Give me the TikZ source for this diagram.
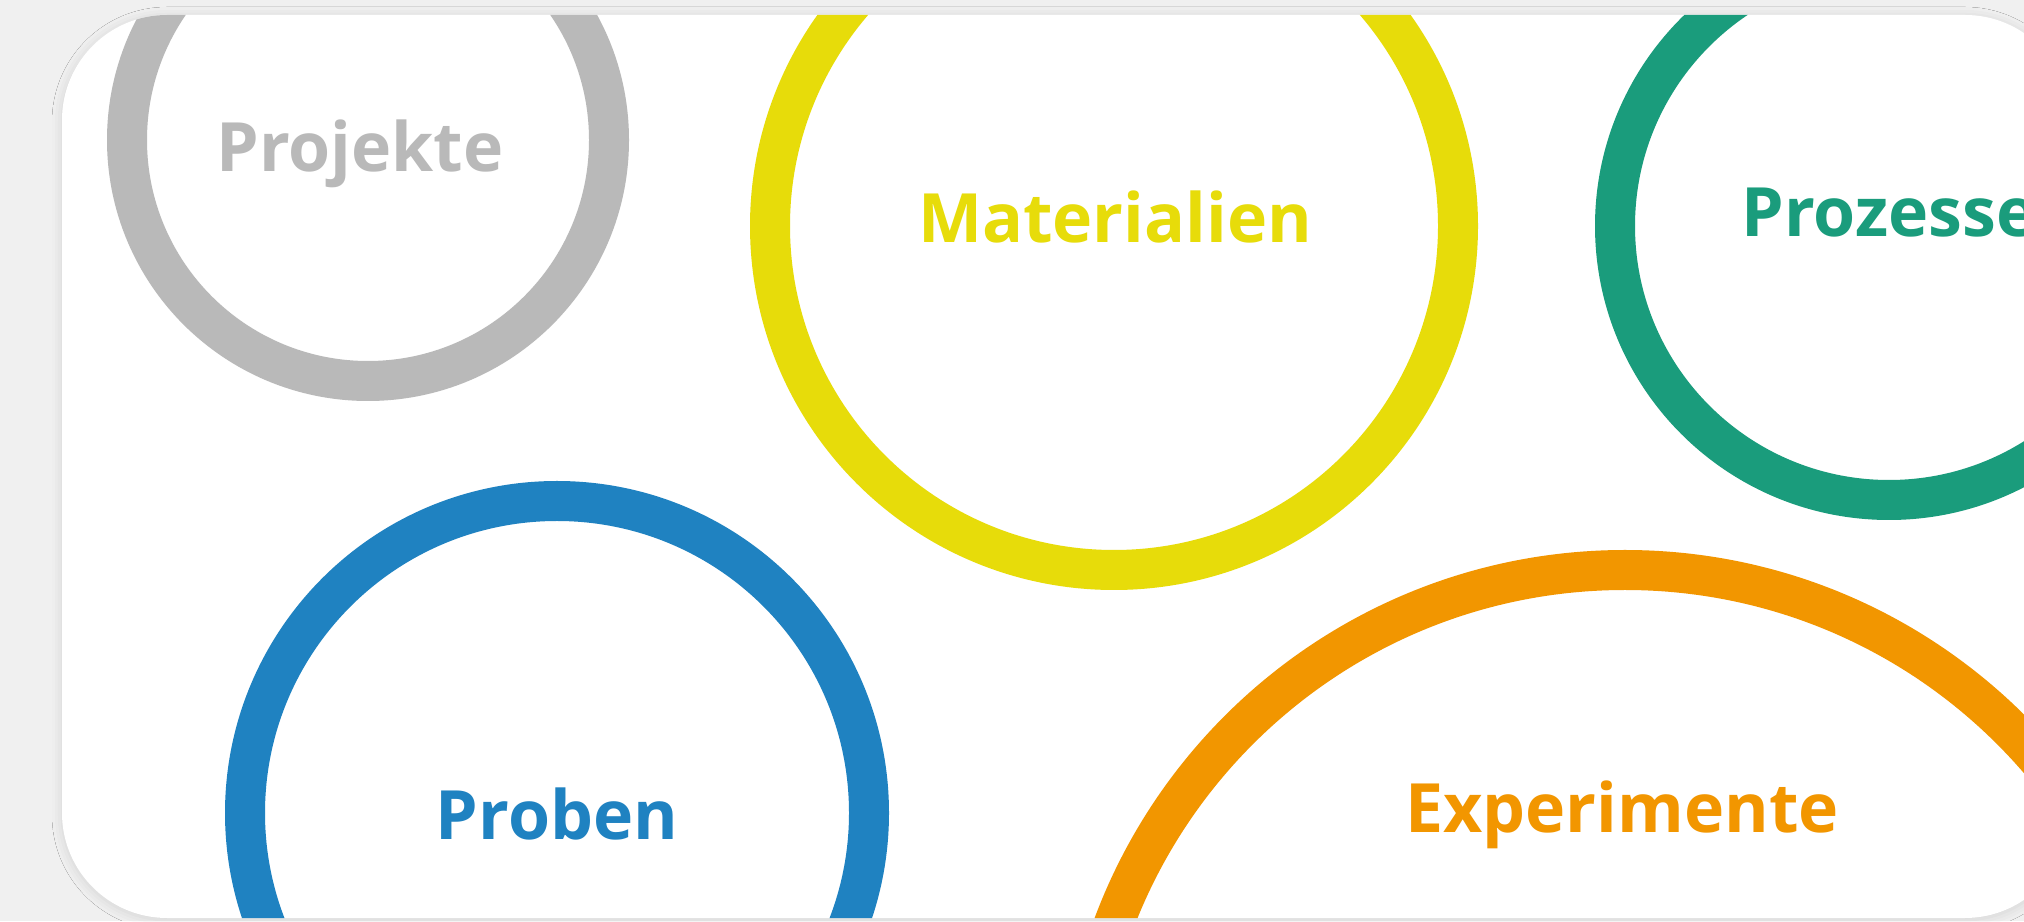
\documentclass[tikz,border=0pt]{standalone}
\usepackage{fontspec}
\setmainfont{Open Sans}
\usetikzlibrary{shadows.blur}

\definecolor{pagegray}{HTML}{F0F0F0}
\definecolor{projektegray}{HTML}{B9B9B9}
\definecolor{materialyellow}{HTML}{E7DC0A}
\definecolor{prozessgreen}{HTML}{1A9C7C}
\definecolor{probenblue}{HTML}{1F82C1}
\definecolor{experimentorange}{HTML}{F29600}

\tikzset{
  ring/.style={circle, draw=#1, line width=40pt, inner sep=0pt},
  ringlabel/.style={text=#1, anchor=base, inner sep=0pt,
    font=\bfseries\fontsize{68}{82}\selectfont},
}

\begin{document}
\begin{tikzpicture}[x=1pt,y=1pt]
    \useasboundingbox (0,0) rectangle (2024,921);
    \fill[pagegray] (0,0) rectangle (2024,921);
    \fill[white, rounded corners=105pt,
      blur shadow={shadow xshift=0pt, shadow yshift=-2pt, shadow blur radius=10pt, shadow opacity=12}]
      (62,3) rectangle (2070,906);

    \begin{scope}
        \clip[rounded corners=105pt] (62,3) rectangle (2070,906);
        \node[ring=projektegray, minimum size=482pt] (projekte) at (368,781) {};
        \node[ring=materialyellow, minimum size=688pt] (materialien) at (1114,695) {};
        \node[ring=prozessgreen, minimum size=548pt] (prozesse) at (1889,695) {};
        \node[ring=probenblue, minimum size=624pt] (proben) at (557,108) {};
        \node[ring=experimentorange, minimum size=1092pt] (experimente) at (1625,-195) {};
    \end{scope}

    \node[ringlabel=projektegray] (projektetext) at (360,749) {Projekte};
    \node[ringlabel=materialyellow] (materialientext) at (1115,678) {Materialien};
    \node[ringlabel=prozessgreen] (prozessetext) at (1889,684) {Prozesse};
    \node[ringlabel=probenblue] (probentext) at (557,81) {Proben};
    \node[ringlabel=experimentorange] (experimentetext) at (1622,88) {Experimente};
\end{tikzpicture}
\end{document}
